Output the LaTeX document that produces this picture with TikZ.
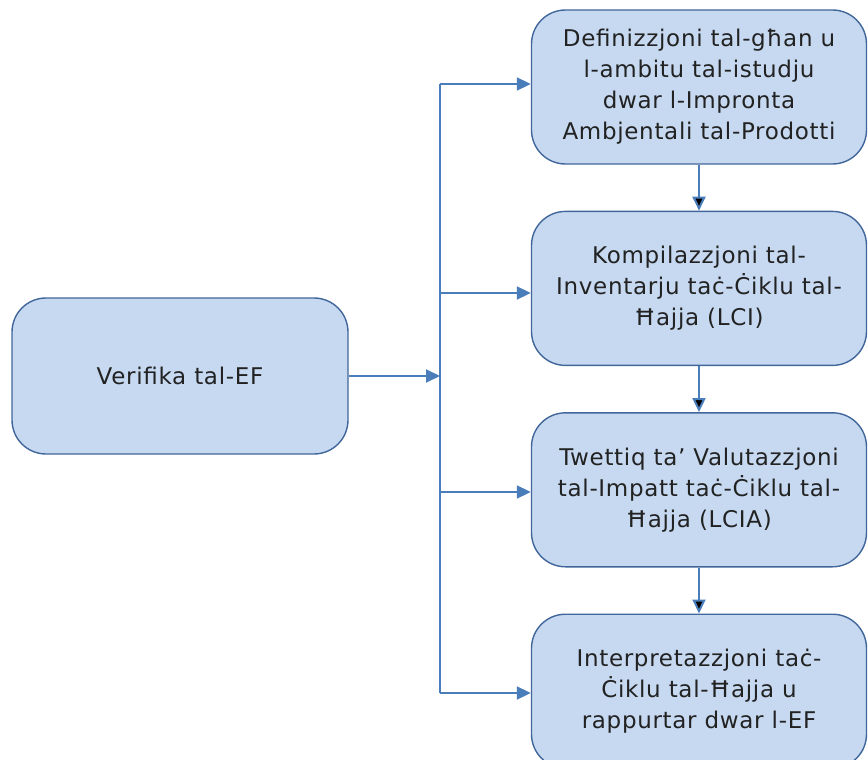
\documentclass[tikz,border=0pt]{standalone}
\usepackage{fontspec}
\setmainfont{DejaVu Sans}[LetterSpace=3]
\usepackage{xcolor}
\usepackage{tikz}
\usetikzlibrary{arrows.meta,positioning}
\definecolor{boxfill}{HTML}{C6D9F1}
\definecolor{boxline}{HTML}{41669A}
\definecolor{linkblue}{HTML}{4A7EBB}
\definecolor{textgray}{HTML}{222222}
\tikzset{>={Triangle[length=14pt,width=13pt]}}
\tikzset{step box/.style={rectangle,rounded corners=34pt,fill=boxfill,draw=boxline,line width=1.4pt,
            minimum width=335pt,minimum height=154pt,align=center,text=textgray,
            font=\fontsize{23}{31}\selectfont,inner sep=0pt},
         link/.style={draw=linkblue,line width=2pt},
            }

\begin{document}
\begin{tikzpicture}[x=1pt,y=1pt]

    \useasboundingbox (0,0) rectangle (868,-760);

    \node[step box,minimum width=336pt,minimum height=156pt] (0) at (180,-376) {Verifika tal-EF};
    \node[step box] (1) at (699,-87) {Definizzjoni tal-għan u\\l-ambitu tal-istudju\\dwar l-Impronta\\Ambjentali tal-Prodotti};
    \node[step box] (2) [below = 46pt of 1] {Kompilazzjoni tal-\\Inventarju taċ-Ċiklu tal-\\Ħajja (LCI)};
    \node[step box] (3) [below = 46pt of 2] {Twettiq ta’ Valutazzjoni\\tal-Impatt taċ-Ċiklu tal-\\Ħajja (LCIA)};
    \node[step box] (4) [below = 46pt of 3] {Interpretazzjoni taċ-\\Ċiklu tal-Ħajja u\\rappurtar dwar l-EF};

    % branch line
    \coordinate (top) at (440,-84);
    \coordinate (bot) at (440,-693);
    \coordinate (mid) at (440,-376);
    \path[link] (top) -- (bot);

    \path[link,->] (0) -- (mid);
    \path[link,->] (top) -- (top -| 1.west);
    \path[link,->] (440,-293) -- (440,-293 -| 2.west);
    \path[link,->] (440,-492) -- (440,-492 -| 3.west);
    \path[link,->] (bot) -- (bot -| 4.west);

    \path[link,->]
    (1) edge (2)
    (2) edge (3)
    (3) edge (4);

\end{tikzpicture}
\end{document}
